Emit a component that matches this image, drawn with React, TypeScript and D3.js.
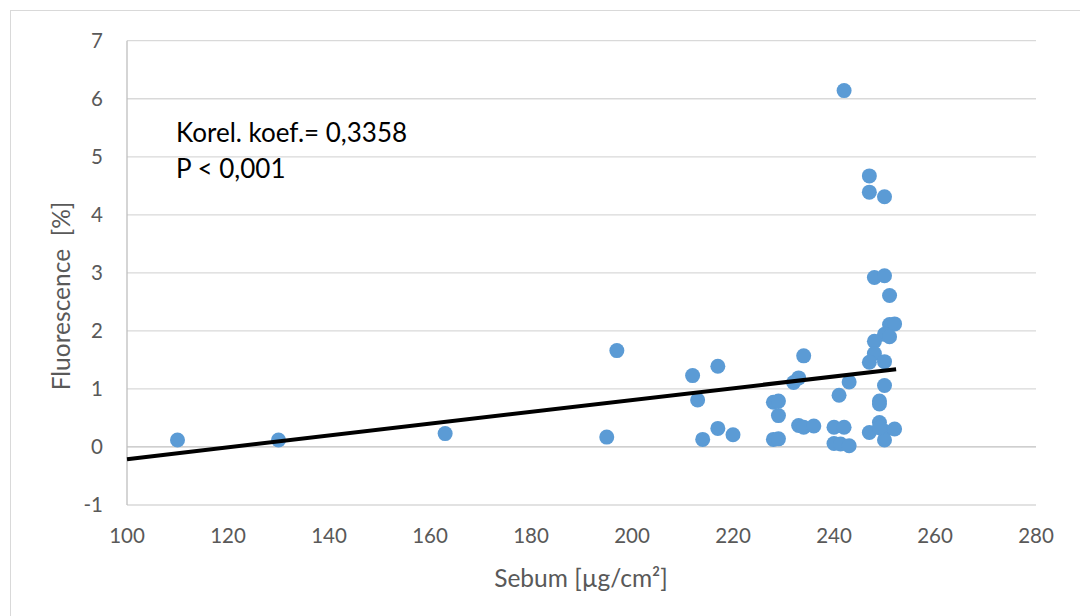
import * as d3 from "d3";

// Sebum [µg/cm²] vs Fluorescence [%]
const sebum = [
  110, 130, 163, 195, 197, 212, 213, 214, 217, 217, 220, 228, 229, 229, 228, 229,
  232, 233, 234, 233, 234, 236, 240, 242, 240, 241.3, 243, 241, 243, 242,
  247, 247, 250, 248, 250, 251, 251, 252, 250, 251, 248, 248, 247, 250, 250,
  249, 249, 249, 247, 250, 252, 250, 249,
];
const fluorescence = [
  0.12, 0.12, 0.23, 0.17, 1.66, 1.23, 0.81, 0.13, 1.39, 0.32, 0.21, 0.77, 0.79, 0.54, 0.13, 0.14,
  1.11, 1.19, 1.57, 0.37, 0.34, 0.36, 0.34, 0.34, 0.06, 0.05, 0.02, 0.89, 1.12, 6.14,
  4.67, 4.39, 4.31, 2.92, 2.95, 2.61, 2.11, 2.12, 1.94, 1.90, 1.82, 1.61, 1.46, 1.47, 1.06,
  0.79, 0.74, 0.42, 0.25, 0.27, 0.31, 0.12, 0.33,
];
// trend line ends [sebum, fluorescence]
const trendX = [100, 252.3];
const trendY = [-0.21, 1.34];

const xTicks = [100, 120, 140, 160, 180, 200, 220, 240, 260, 280];
const yTicks = [-1, 0, 1, 2, 3, 4, 5, 6, 7];

const FONT = "Lato, 'Open Sans', sans-serif";

export default function App() {
  const x = d3.scaleLinear().domain([100, 280]).range([127, 1036]);
  const y = d3.scaleLinear().domain([-1, 7]).range([505, 40.7]);
  const line = d3
    .line<number>()
    .x((d) => x(trendX[d]))
    .y((d) => y(trendY[d]));

  return (
    <svg
      width={1080}
      height={616}
      style={{ position: "absolute", left: 0, top: 0, background: "#fff" }}
    >
      <rect x={10.5} y={10.5} width={1100} height={700} fill="#fff" stroke="#D9D9D9" />
      {/* gridlines */}
      <g stroke="#D9D9D9" strokeWidth={1.3}>
        {yTicks
          .filter((t) => t !== 0)
          .map((t) => (
            <line key={t} x1={x(100)} x2={x(280)} y1={y(t)} y2={y(t)} />
          ))}
      </g>
      <line x1={x(100)} x2={x(280)} y1={y(0)} y2={y(0)} stroke="#BFBFBF" strokeWidth={1.3} />
      <line x1={x(100)} x2={x(100)} y1={y(7)} y2={y(-1)} stroke="#BFBFBF" strokeWidth={1.3} />
      {/* tick labels */}
      <g fill="#595959" fontFamily={FONT} fontSize={20.5}>
        {yTicks.map((t) => (
          <text key={t} x={103} y={y(t)} dy="0.36em" textAnchor="end">
            {t}
          </text>
        ))}
        {xTicks.map((t) => (
          <text key={t} x={x(t)} y={536} dy="0.36em" textAnchor="middle">
            {t}
          </text>
        ))}
      </g>
      {/* points */}
      <g fill="#5B9BD5">
        {sebum.map((s, i) => (
          <circle key={i} cx={x(s)} cy={y(fluorescence[i])} r={7.5} />
        ))}
      </g>
      <path d={line([0, 1]) ?? ""} stroke="#000" strokeWidth={4} fill="none" />
      {/* annotation */}
      <g fill="#000" fontFamily={FONT} fontSize={26}>
        <text x={176} y={141.5}>Korel. koef.= 0,3358</text>
        <text x={176} y={178}>P &lt; 0,001</text>
      </g>
      {/* axis titles */}
      <text
        x={581}
        y={578}
        dy="0.36em"
        textAnchor="middle"
        fill="#595959"
        fontFamily={FONT}
        fontSize={24.5}
      >
        Sebum [µg/cm²]
      </text>
      <text
        transform={`translate(61,296) rotate(-90)`}
        dy="0.36em"
        textAnchor="middle"
        fill="#595959"
        fontFamily={FONT}
        fontSize={24.5}
        style={{ whiteSpace: "pre" }}
      >
        {"Fluorescence  [%]"}
      </text>
    </svg>
  );
}
